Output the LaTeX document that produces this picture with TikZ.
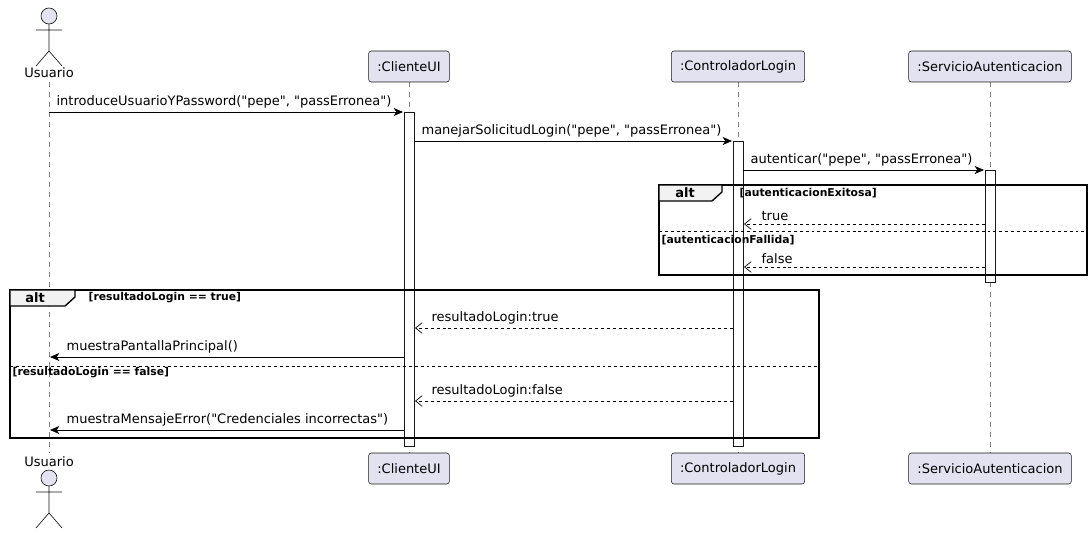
\documentclass[tikz,border=0pt]{standalone}
\usepackage{fontspec}
\setmainfont{DejaVu Sans}
\usetikzlibrary{arrows.meta}
\definecolor{partfill}{RGB}{226,226,240}
\definecolor{partline}{RGB}{24,24,24}
\newcommand{\qq}{\textquotedbl}
\tikzset{
  part/.style={draw=partline,fill=partfill,rounded corners=2pt,minimum height=23.25pt,inner xsep=6.5pt,font=\fontsize{9.75}{11}\selectfont},
  lifeline/.style={draw=gray,dash pattern=on 3.75pt off 3.75pt,line width=0.4pt},
  act/.style={draw=partline,fill=white,line width=0.5pt},
  msg/.style={-{Stealth[length=7pt,width=6pt,inset=2pt]},line width=0.6pt},
  ret/.style={-{Straight Barb[length=5pt,width=8pt]},line width=0.5pt,dash pattern=on 2.2pt off 2.2pt},
  lbl/.style={font=\fontsize{9.75}{11}\selectfont,anchor=south west,inner sep=1pt},
  guard/.style={font=\bfseries\fontsize{8.1}{9}\selectfont,anchor=west,inner sep=1pt},
  frame/.style={draw=black,line width=1pt},
  sep/.style={draw=black,dash pattern=on 2.2pt off 2.2pt,line width=0.5pt}
}
\newcommand{\actor}[2]{% center x, head y
  \draw[partline,fill=partfill,line width=0.5pt] (#1,#2) circle (6pt);
  \draw[partline,line width=0.5pt] (#1,#2+8) -- (#1,#2+35) (#1-13,#2+14) -- (#1+13,#2+14)
    (#1,#2+35) -- (#1-13,#2+50) (#1,#2+35) -- (#1+13,#2+50);}
\begin{document}
\begin{tikzpicture}[x=0.75pt,y=0.75pt,yscale=-1]
\path (0,0) rectangle (1092,535);

% lifelines
\draw[lifeline] (49,82) -- (49,453);
\draw[lifeline] (409,82) -- (409,453);
\draw[lifeline] (738,82) -- (738,453);
\draw[lifeline] (990,82) -- (990,453);

% participants top
\actor{49}{16}
\node[font=\fontsize{9.75}{11}\selectfont] (usrT) at (49,73) {Usuario};
\node[part] (cliT) at (409,66.5) {:ClienteUI};
\node[part] (ctlT) at (738,66.5) {:ControladorLogin};
\node[part] (srvT) at (990,66.5) {:ServicioAutenticacion};
% participants bottom
\node[font=\fontsize{9.75}{11}\selectfont] (usrB) at (49,462) {Usuario};
\actor{49}{478}
\node[part] (cliB) at (409,468.5) {:ClienteUI};
\node[part] (ctlB) at (738,468.5) {:ControladorLogin};
\node[part] (srvB) at (990,468.5) {:ServicioAutenticacion};

% activations
\draw[act] (404,112) rectangle (414,446);
\draw[act] (733,141) rectangle (743,446);
\draw[act] (985,170) rectangle (995,282);

% message end points
\coordinate (u1) at (49,112);  \coordinate (c1) at (403,112);
\coordinate (c2) at (414,141); \coordinate (k2) at (732,141);
\coordinate (k3) at (743,170); \coordinate (s3) at (984,170);
\coordinate (s4) at (985,224); \coordinate (k4) at (744,224);
\coordinate (s5) at (985,267); \coordinate (k5) at (744,267);
\coordinate (k6) at (733,328); \coordinate (c6) at (415,328);
\coordinate (c7) at (404,357); \coordinate (u7) at (50,357);
\coordinate (k8) at (733,401); \coordinate (c8) at (415,401);
\coordinate (c9) at (404,430); \coordinate (u9) at (50,430);

\draw[msg] (u1) -- (c1);
\node[lbl] (t1) at (55,110) {introduceUsuarioYPassword(\qq pepe\qq, \qq passErronea\qq)};
\draw[msg] (c2) -- (k2);
\node[lbl] (t2) at (420,139) {manejarSolicitudLogin(\qq pepe\qq, \qq passErronea\qq)};
\draw[msg] (k3) -- (s3);
\node[lbl] (t3) at (749,168) {autenticar(\qq pepe\qq, \qq passErronea\qq)};

% alt autenticacion
\draw[frame] (659,185) rectangle (1087,275);
\draw[frame,fill=white!95!black] (659,185) -- (722,185) -- (722,192) -- (712,201) -- (659,201) -- cycle;
\node[font=\bfseries\fontsize{9.75}{11}\selectfont] (alt1) at (685,193) {alt};
\node[guard] (g1) at (738,193) {[autenticacionExitosa]};
\draw[ret] (s4) -- (k4);
\node[lbl] (t4) at (760,222) {true};
\draw[sep] (659,231) -- (1087,231);
\node[guard] (g2) at (660,240) {[autenticacionFallida]};
\draw[ret] (s5) -- (k5);
\node[lbl] (t5) at (760,265) {false};

% alt resultado
\draw[frame] (10,290) rectangle (819,438);
\draw[frame,fill=white!95!black] (10,290) -- (75,290) -- (75,297) -- (65,306) -- (10,306) -- cycle;
\node[font=\bfseries\fontsize{9.75}{11}\selectfont] (alt2) at (35,298) {alt};
\node[guard] (g3) at (87,298) {[resultadoLogin == true]};
\draw[ret] (k6) -- (c6);
\node[lbl] (t6) at (430,326) {resultadoLogin:true};
\draw[msg] (c7) -- (u7);
\node[lbl] (t7) at (65,355) {muestraPantallaPrincipal()};
\draw[sep] (10,366) -- (819,366);
\node[guard] (g4) at (11,373) {[resultadoLogin == false]};
\draw[ret] (k8) -- (c8);
\node[lbl] (t8) at (430,399) {resultadoLogin:false};
\draw[msg] (c9) -- (u9);
\node[lbl] (t9) at (65,428) {muestraMensajeError(\qq Credenciales incorrectas\qq)};
\end{tikzpicture}
\end{document}
